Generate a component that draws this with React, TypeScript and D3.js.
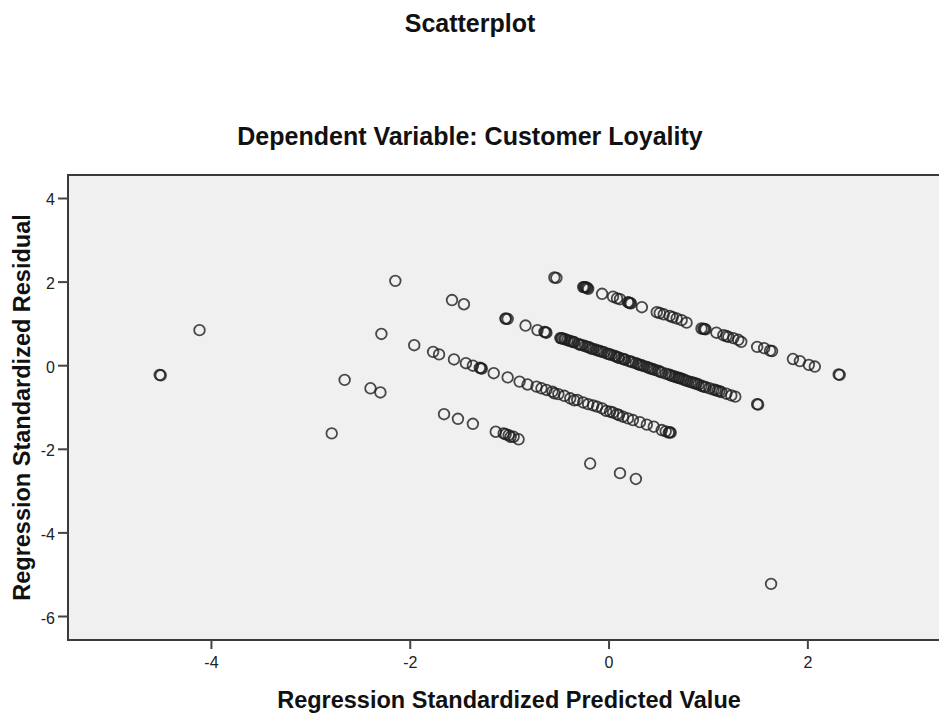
import React from "react";
import * as d3 from "d3";

// Regression standardized predicted values (x) and residuals (y)
const predicted: number[] = [
  -4.52, -4.51, -4.12, -2.79, -2.66, -2.40, -2.30, -2.29, -2.15, -1.96,
  -1.77, -1.71, -1.58, -1.46, -1.56, -1.44, -1.37, -1.30, -1.28, -1.29,
  -1.66, -1.52, -1.37, -1.14, -1.06, -1.04, -1.01, -0.99, -0.96, -0.91,
  -1.04, -1.04, -1.02, -0.84, -0.72, -0.65, -0.63, -0.64,
  // lower band
  -1.16, -1.02, -0.90, -0.82, -0.73, -0.68, -0.63, -0.57, -0.51, -0.45,
  -0.39, -0.32, -0.26, -0.21, -0.16, -0.12, -0.07, 0.01, 0.04, 0.08,
  0.14, 0.19, 0.24, 0.31, 0.38, 0.45, 0.53, 0.57, 0.61, 0.62,
  -0.55, -0.35, -0.03, 0.10, 0.60,
  // lowest band / outliers
  -0.19, 0.11, 0.27, 1.63,
  // top band
  -0.55, -0.53, -0.26, -0.24, -0.22, -0.21, -0.07, 0.04, 0.08, 0.11,
  0.19, 0.21, 0.22, 0.33, 0.48, 0.51, 0.55, 0.61, 0.64, 0.68,
  0.73, 0.78, 0.93, 0.95, 0.97, 1.08, 1.15, 1.18, 1.20, 1.25,
  1.30, 1.33, 1.49, 1.56, 1.62, 1.64, 1.85, 1.92, 2.01, 2.07,
  2.31, 2.32, -0.25, -0.23, 0.20, 0.96,
  // middle dense band
  -0.49, -0.47, -0.45, -0.42, -0.40, -0.38, -0.35, -0.31, -0.27, -0.24,
  -0.20, -0.16, -0.13, -0.09, -0.05, -0.02, 0.00, 0.02, 0.05, 0.09,
  0.10, 0.13, 0.16, 0.20, 0.24, 0.27, 0.31, 0.35, 0.38, 0.40,
  0.42, 0.46, 0.49, 0.53, 0.57, 0.60, 0.64, 0.68, 0.70, 0.71,
  0.75, 0.79, 0.82, 0.86, 0.90, 0.93, 0.95, 0.97, 1.01, 1.05,
  1.09, 1.13, 1.18, 1.23, 1.27, 1.49, 1.50,
  -0.48, -0.44, -0.36, -0.29, -0.22, -0.18, -0.11, -0.07, 0.07, 0.15,
  0.22, 0.29, 0.33, 0.44, 0.51, 0.62, 0.66, 0.73, 0.77, 0.84,
  0.88, 1.07, 1.11,
];

const residual: number[] = [
  -0.22, -0.23, 0.85, -1.62, -0.34, -0.54, -0.64, 0.76, 2.03, 0.49,
  0.33, 0.27, 1.57, 1.47, 0.15, 0.06, 0.00, -0.05, -0.07, -0.06,
  -1.16, -1.27, -1.39, -1.58, -1.62, -1.64, -1.66, -1.70, -1.70, -1.76,
  1.13, 1.12, 1.12, 0.96, 0.85, 0.81, 0.79, 0.80,
  // lower band
  -0.18, -0.28, -0.38, -0.45, -0.50, -0.54, -0.58, -0.62, -0.68, -0.72,
  -0.78, -0.82, -0.88, -0.92, -0.95, -0.98, -1.02, -1.10, -1.12, -1.16,
  -1.22, -1.26, -1.30, -1.35, -1.41, -1.46, -1.54, -1.57, -1.59, -1.60,
  -0.66, -0.83, -1.08, -1.18, -1.60,
  // lowest band / outliers
  -2.34, -2.57, -2.71, -5.22,
  // top band
  2.11, 2.10, 1.88, 1.88, 1.86, 1.84, 1.72, 1.65, 1.61, 1.59,
  1.52, 1.50, 1.49, 1.40, 1.28, 1.26, 1.23, 1.19, 1.16, 1.13,
  1.09, 1.03, 0.89, 0.88, 0.87, 0.79, 0.73, 0.71, 0.69, 0.66,
  0.62, 0.57, 0.45, 0.42, 0.36, 0.35, 0.16, 0.11, 0.02, -0.02,
  -0.21, -0.22, 1.88, 1.87, 1.51, 0.88,
  // middle dense band
  0.66, 0.65, 0.64, 0.61, 0.60, 0.58, 0.56, 0.52, 0.49, 0.47,
  0.44, 0.40, 0.38, 0.35, 0.32, 0.29, 0.28, 0.26, 0.24, 0.20,
  0.19, 0.17, 0.15, 0.11, 0.08, 0.06, 0.02, -0.01, -0.03, -0.05,
  -0.07, -0.10, -0.12, -0.16, -0.19, -0.21, -0.25, -0.28, -0.29, -0.30,
  -0.33, -0.37, -0.39, -0.42, -0.45, -0.48, -0.50, -0.51, -0.54, -0.57,
  -0.60, -0.63, -0.67, -0.71, -0.74, -0.92, -0.93,
  0.66, 0.63, 0.57, 0.50, 0.45, 0.41, 0.36, 0.33, 0.22, 0.15,
  0.10, 0.04, 0.01, -0.08, -0.14, -0.23, -0.26, -0.31, -0.35, -0.40,
  -0.43, -0.58, -0.61,
];

const xTicks: number[] = [-4, -2, 0, 2];
const yTicks: number[] = [4, 2, 0, -2, -4, -6];

const title = "Scatterplot";
const subtitle = "Dependent Variable: Customer Loyality";
const xLabel = "Regression Standardized Predicted Value";
const yLabel = "Regression Standardized Residual";

const W = 939;
const H = 714;

export default function App() {
  const left = 68;
  const right = 950;
  const top = 175;
  const bottom = 640;

  const x = d3.scaleLinear().domain([-5.443, 3.430]).range([left, right]);
  const y = d3.scaleLinear().domain([-6.562, 4.562]).range([bottom, top]);

  const pts = predicted.map((p, i) => ({ p, r: residual[i] }));
  const font = "'Liberation Sans', Arial, sans-serif";

  return (
    <div style={{ position: "absolute", left: 0, top: 0, width: W, height: H, background: "#fff" }}>
      <svg width={W} height={H} style={{ display: "block" }}>
        <text x={470} y={32} textAnchor="middle" fontFamily={font} fontWeight="bold" fontSize={25} fill="#111">
          {title}
        </text>
        <text x={470} y={145} textAnchor="middle" fontFamily={font} fontWeight="bold" fontSize={25} fill="#111">
          {subtitle}
        </text>

        <rect x={left} y={top} width={right - left} height={bottom - top} fill="#f0f0f0" stroke="#3a3a3a" strokeWidth={2} />

        <g>
          {pts.map((d, i) => (
            <circle
              key={i}
              cx={x(d.p)}
              cy={y(d.r)}
              r={5.3}
              fill="none"
              stroke="#1e1e1e"
              strokeWidth={1.8}
              strokeOpacity={0.8}
            />
          ))}
        </g>

        <g>
          {xTicks.map((t) => (
            <g key={t}>
              <line x1={x(t)} x2={x(t)} y1={bottom} y2={bottom + 9} stroke="#444" strokeWidth={2} />
              <text x={x(t)} y={668} textAnchor="middle" fontFamily={font} fontSize={16} fill="#222">
                {t}
              </text>
            </g>
          ))}
        </g>

        <g>
          {yTicks.map((t) => (
            <g key={t}>
              <line x1={left - 10} x2={left} y1={y(t)} y2={y(t)} stroke="#444" strokeWidth={2} />
              <text x={55} y={y(t) + 7} textAnchor="end" fontFamily={font} fontSize={16} fill="#222">
                {t}
              </text>
            </g>
          ))}
        </g>

        <text x={(left + right) / 2} y={708} textAnchor="middle" fontFamily={font} fontWeight="bold" fontSize={23.5} fill="#111">
          {xLabel}
        </text>
        <text
          transform={`translate(30, ${(top + bottom) / 2}) rotate(-90)`}
          textAnchor="middle"
          fontFamily={font}
          fontWeight="bold"
          fontSize={23.5}
          fill="#111"
        >
          {yLabel}
        </text>
      </svg>
    </div>
  );
}
